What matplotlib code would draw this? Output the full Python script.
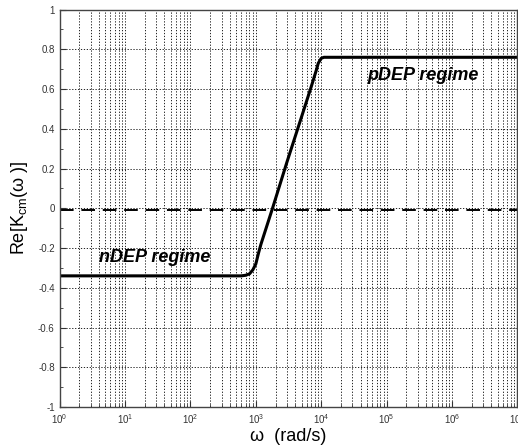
import matplotlib.pyplot as plt
from matplotlib.ticker import LogLocator, MultipleLocator, FixedLocator

plt.rcParams['font.family'] = ['Liberation Sans', 'DejaVu Sans']
plt.rcParams['mathtext.default'] = 'regular'

# Re[K_cm] vs angular frequency
omega = [1, 100, 500, 600, 700, 800, 900, 1000, 1100, 1200, 1800, 3000,
         5000, 7000, 8500, 9000, 10000, 11000, 1e7]
re_kcm = [-0.34, -0.34, -0.34, -0.34, -0.337, -0.33, -0.31, -0.28, -0.225,
          -0.18, 0.0, 0.234, 0.46, 0.61, 0.70, 0.73, 0.755, 0.76, 0.76]
ref_level = -0.01
xticks = [1e0, 1e1, 1e2, 1e3, 1e4, 1e5, 1e6, 1e7]
yticks = [-1, -0.8, -0.6, -0.4, -0.2, 0, 0.2, 0.4, 0.6, 0.8, 1]

fig = plt.figure(figsize=(5.18, 4.47), dpi=100)
ax = fig.add_axes([0.115, 0.0895, 0.884, 0.889])

ax.plot(omega, re_kcm, color='black', lw=2.2)
ax.axhline(ref_level, color='black', lw=1.4, dashes=(7, 4))

ax.set_xscale('log')
ax.set_xlim(1, 1e7)
ax.set_ylim(-1, 1)
ax.set_xticks(xticks)
ax.xaxis.set_minor_locator(LogLocator(base=10, subs=range(2, 10), numticks=20))
ax.set_yticks(yticks)
ax.set_yticklabels(['-1', '-0.8', '-0.6', '-0.4', '-0.2', '0', '0.2', '0.4',
                    '0.6', '0.8', '1'])
ax.yaxis.set_minor_locator(MultipleLocator(0.1))

ax.grid(True, which='major', axis='both', color='black', ls=(0, (1.5, 2)), lw=0.6)
ax.grid(True, which='minor', axis='x', color='black', ls=(0, (1.5, 2)), lw=0.6)

ax.tick_params(which='both', direction='in', labelsize=7, colors='#333333')
ax.tick_params(which='major', length=4)
ax.tick_params(which='minor', length=2)
for s in ax.spines.values():
    s.set_color('#444444')
    s.set_linewidth(1.0)

ax.text(10**1.46, -0.25, 'nDEP regime', fontsize=13, fontweight='bold',
        fontstyle='italic', ha='center', va='center')
ax.text(10**5.55, 0.67, 'pDEP regime', fontsize=13, fontweight='bold',
        fontstyle='italic', ha='center', va='center')

ax.set_xlabel('ω  (rad/s)', fontsize=13, labelpad=2)
ax.set_ylabel('Re[K$_{cm}$(ω )]', fontsize=13, labelpad=6)

fig.savefig('out.png', dpi=100)
